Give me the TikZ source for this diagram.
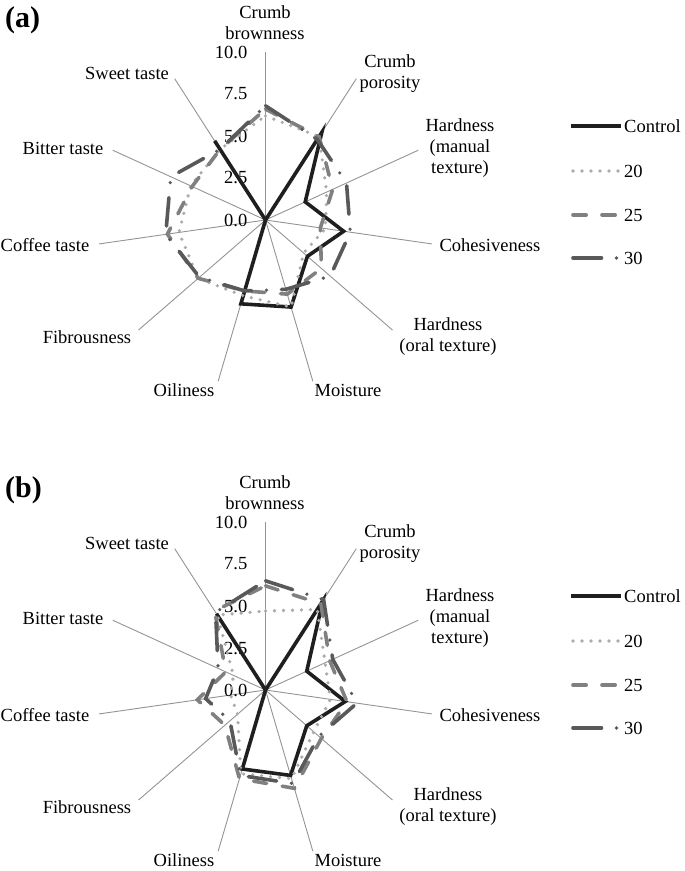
\documentclass[tikz,border=0pt]{standalone}
\usepackage{fontspec}
\setmainfont{Liberation Serif}
\usetikzlibrary{calc}
\begin{document}
\begin{tikzpicture}[x=1pt,y=-1pt,
  lbl/.style={font=\fontsize{18.5}{21}\selectfont, align=center, inner sep=0pt},
  ticklbl/.style={font=\fontsize{18.5}{21}\selectfont, anchor=east, inner sep=0pt},
  legtxt/.style={font=\fontsize{18.5}{21}\selectfont, anchor=west, inner sep=0pt},
  panel/.style={font=\fontsize{30}{32}\selectfont\bfseries, anchor=west, inner sep=0pt},
  spoke/.style={draw=black!42, line width=0.9pt},
  sctrl/.style={draw=black!88, line width=3.6pt},
  s20/.style={draw=black!33, line width=3.6pt, line cap=round, dash pattern=on 0pt off 9pt},
  s25/.style={draw=black!50, line width=3.6pt, line cap=round, dash pattern=on 13.2pt off 15.8pt},
  s30/.style={draw=black!65, line width=3.6pt, line cap=round, dash pattern=on 28.5pt off 15pt on 0pt off 15pt},
]
\useasboundingbox (0,0) rectangle (685,871);

% ---------- generic radar macro ----------
\newcommand\radarseries[4]{% #1 center, #2 id, #3 style, #4 values
  \foreach \v [count=\k from 0] in {#4} {
    \coordinate (#2-\k) at ([shift={(#1)}] {90-32.72727*\k}:{\v*16.8pt});
  }
  \draw[#3] (#2-0) \foreach \k in {1,...,10} { -- (#2-\k) } -- cycle;
}
\newcommand\radarframe[2]{% #1 center, #2 prefix
  \foreach \k in {0,...,10} {
    \coordinate (#2-end-\k) at ([shift={(#1)}] {90-32.72727*\k}:168pt);
    \draw[spoke] (#1) -- (#2-end-\k);
  }
  \foreach \t [count=\i from 0] in {0.0,2.5,5.0,7.5,10.0} {
    \node[ticklbl] (#2-tick-\i) at ($(#1)+(-18,-\i*42)$) {\t};
  }
}
\newcommand\radarlabels[2]{% #1 y offset, #2 prefix
  \node[lbl] (#2-l0) at (265,23+#1) {Crumb\\brownness};
  \node[lbl] (#2-l1) at (390,74+#1) {Crumb\\porosity};
  \node[lbl] (#2-l2) at (460,148+#1) {Hardness\\(manual\\texture)};
  \node[lbl] (#2-l3) at (490,245+#1) {Cohesiveness};
  \node[lbl] (#2-l4) at (448,337+#1) {Hardness\\(oral texture)};
  \node[lbl] (#2-l5) at (348,390+#1) {Moisture};
  \node[lbl] (#2-l6) at (184,390+#1) {Oiliness};
  \node[lbl] (#2-l7) at (87,337+#1) {Fibrousness};
  \node[lbl] (#2-l8) at (45,245+#1) {Coffee taste};
  \node[lbl] (#2-l9) at (63,148+#1) {Bitter taste};
  \node[lbl] (#2-l10) at (127,73+#1) {Sweet taste};
}
\newcommand\radarlegend[2]{% #1 y offset, #2 prefix
  \coordinate (#2-la0) at (571,126+#1); \coordinate (#2-lb0) at (621,126+#1);
  \draw[sctrl] (#2-la0) -- (#2-lb0);
  \node[legtxt] (#2-t0) at (624,126+#1) {Control};
  \coordinate (#2-la1) at (573,171+#1); \coordinate (#2-lb1) at (620,171+#1);
  \draw[s20] (#2-la1) -- (#2-lb1);
  \node[legtxt] (#2-t1) at (624,171+#1) {20};
  \coordinate (#2-la2) at (573,215+#1); \coordinate (#2-lb2) at (620,215+#1);
  \draw[s25] (#2-la2) -- (#2-lb2);
  \node[legtxt] (#2-t2) at (624,215+#1) {25};
  \coordinate (#2-la3) at (573,258+#1); \coordinate (#2-lb3) at (620,258+#1);
  \draw[s30] (#2-la3) -- (#2-lb3);
  \node[legtxt] (#2-t3) at (624,258+#1) {30};
}

% ---------- panel (a) ----------
\coordinate (ca) at (265.5,220);
\node[panel] (pa) at (5,20) {(a)};
\radarframe{ca}{A}
\radarlabels{0}{A}
\radarseries{ca}{Actl}{sctrl}{0, 6.2, 2.6, 4.7, 3.3, 5.4, 5.2, 0, 0, 0, 5.6}
\radarseries{ca}{A20}{s20}{6.2, 5.9, 4.0, 3.6, 3.0, 5.4, 4.7, 5.3, 5.2, 4.9, 5.0}
\radarseries{ca}{A25}{s25}{6.6, 5.9, 4.4, 3.3, 4.4, 4.6, 4.4, 5.3, 5.9, 4.8, 5.0}
\radarseries{ca}{A30}{s30}{6.8, 5.7, 5.3, 5.1, 5.1, 4.3, 4.4, 5.2, 6.0, 6.2, 5.0}
\radarlegend{0}{A}

% ---------- panel (b) ----------
\coordinate (cb) at (265.5,690);
\node[panel] (pb) at (5,490) {(b)};
\radarframe{cb}{B}
\radarlabels{470}{B}
\radarseries{cb}{Bctl}{sctrl}{0, 6.3, 2.7, 4.8, 3.25, 5.3, 4.9, 0, 0, 0, 5.4}
\radarseries{cb}{B20}{s20}{4.7, 5.7, 3.9, 3.9, 3.8, 5.5, 5.2, 2.2, 2.1, 2.1, 5.3}
\radarseries{cb}{B25}{s25}{6.2, 6.1, 4.2, 4.9, 4.4, 6.1, 5.5, 3.2, 4.1, 2.6, 5.6}
\radarseries{cb}{B30}{s30}{6.5, 6.4, 4.4, 5.5, 4.2, 5.8, 5.3, 2.8, 3.6, 3.1, 5.5}
\radarlegend{470}{B}
\end{tikzpicture}
\end{document}
